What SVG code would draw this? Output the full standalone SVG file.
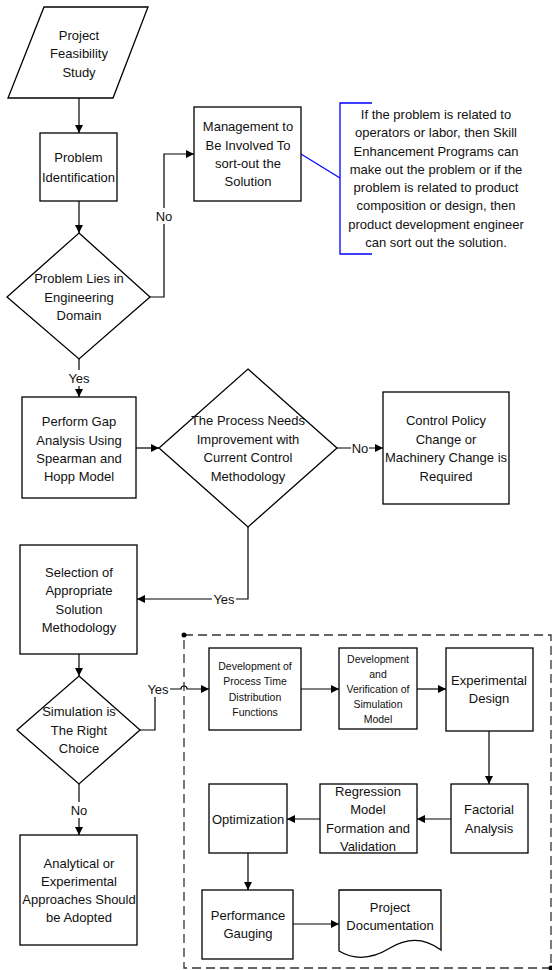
<svg xmlns="http://www.w3.org/2000/svg" width="552" height="970" viewBox="0 0 552 970">
<style>
.s{fill:#fff;stroke:#000;stroke-width:1.3}
.t{font-family:"Liberation Sans",Arial,sans-serif;font-size:13px;fill:#111;text-anchor:middle}
.sm{font-size:10.5px}
.c{fill:none;stroke:#000;stroke-width:1.2}
.lb{fill:#fff;stroke:none}
.blue{fill:none;stroke:#0000ff;stroke-width:1.3}
</style>
<defs>
<marker id="ah" viewBox="0 0 10 10" refX="10" refY="5" markerWidth="8" markerHeight="8" markerUnits="userSpaceOnUse" orient="auto">
<path d="M0,0 L10,5 L0,10 z" fill="#000"/>
</marker>
</defs>
<rect width="552" height="970" fill="#fff"/>

<g id="container">
<rect x="184" y="635" width="367" height="333" fill="none" stroke="#333" stroke-width="1.3" stroke-dasharray="9 5"/>
<circle cx="184" cy="635" r="2.5" fill="#000"/>
<circle cx="551" cy="968" r="2.5" fill="#000"/>
</g>

<g id="connectors">
<path class="c" d="M79,98 V133" marker-end="url(#ah)"/>
<path class="c" d="M79,201 V233" marker-end="url(#ah)"/>
<path class="c" d="M150,297 H164 V154 H194" marker-end="url(#ah)"/>
<path class="c" d="M79,359 V397" marker-end="url(#ah)"/>
<path class="c" d="M136,448 H159" marker-end="url(#ah)"/>
<path class="c" d="M337,448 H383" marker-end="url(#ah)"/>
<path class="c" d="M248,527 V599 H137" marker-end="url(#ah)"/>
<path class="c" d="M79,654 V676" marker-end="url(#ah)"/>
<path class="c" d="M140,730 H155 V689 H181 A3,3 0 0 1 187,689 H209" marker-end="url(#ah)"/>
<path class="c" d="M79,784 V835" marker-end="url(#ah)"/>
<path class="c" d="M301,689 H339" marker-end="url(#ah)"/>
<path class="c" d="M417,689 H446" marker-end="url(#ah)"/>
<path class="c" d="M489,731 V784" marker-end="url(#ah)"/>
<path class="c" d="M451,819 H417" marker-end="url(#ah)"/>
<path class="c" d="M320,819 H287" marker-end="url(#ah)"/>
<path class="c" d="M248,853 V890" marker-end="url(#ah)"/>
<path class="c" d="M293,924 H339" marker-end="url(#ah)"/>
<path class="blue" d="M301,154 L340,178"/>
<rect class="lb" x="155" y="208" width="18" height="16"/>
<text class="t" x="164" y="220.5">No</text>
<rect class="lb" x="67" y="370" width="24" height="16"/>
<text class="t" x="79" y="382.5">Yes</text>
<rect class="lb" x="351" y="440" width="18" height="16"/>
<text class="t" x="360" y="452.5">No</text>
<rect class="lb" x="212" y="591" width="24" height="16"/>
<text class="t" x="224" y="603.5">Yes</text>
<rect class="lb" x="146" y="681" width="24" height="16"/>
<text class="t" x="158" y="693.5">Yes</text>
<rect class="lb" x="70" y="802" width="18" height="16"/>
<text class="t" x="79" y="814.5">No</text>
</g>

<g id="n-feasibility">
<polygon class="s" points="44,7 148,7 113,98 8,98"/>
<text class="t" x="79" y="39.5">Project</text>
<text class="t" x="79" y="58">Feasibility</text>
<text class="t" x="79" y="76.5">Study</text>
</g>

<g id="n-problem">
<rect class="s" x="40" y="133" width="77" height="68"/>
<text class="t" x="78.5" y="161.5">Problem</text>
<text class="t" x="78.5" y="181.5">Identification</text>
</g>

<g id="n-management">
<rect class="s" x="194" y="107" width="107" height="94"/>
<text class="t" x="248" y="130.5">Management to</text>
<text class="t" x="248" y="149.5">Be Involved To</text>
<text class="t" x="248" y="167.5">sort-out the</text>
<text class="t" x="248" y="185.5">Solution</text>
</g>

<g id="n-annotation">
<path class="blue" d="M372,103 H340 V254 H372"/>
<text class="t" x="436" y="118.5">If the problem is related to</text>
<text class="t" x="436" y="137">operators or labor, then Skill</text>
<text class="t" x="436" y="155.5">Enhancement Programs can</text>
<text class="t" x="436" y="173.5">make out the problem or if the</text>
<text class="t" x="436" y="191.5">problem is related to product</text>
<text class="t" x="436" y="210">composition or design, then</text>
<text class="t" x="436" y="228.5">product development engineer</text>
<text class="t" x="436" y="246.5">can sort out the solution.</text>
</g>

<g id="n-decision-domain">
<polygon class="s" points="79,233 150,297 79,359 7,297"/>
<text class="t" x="79" y="282.5">Problem Lies in</text>
<text class="t" x="79" y="301.5">Engineering</text>
<text class="t" x="79" y="319.5">Domain</text>
</g>

<g id="n-gap">
<rect class="s" x="22" y="397" width="114" height="101"/>
<text class="t" x="79" y="425.5">Perform Gap</text>
<text class="t" x="79" y="444.5">Analysis Using</text>
<text class="t" x="79" y="462.5">Spearman and</text>
<text class="t" x="79" y="480.5">Hopp Model</text>
</g>

<g id="n-decision-process">
<polygon class="s" points="248,369 337,448 248,527 159,448"/>
<text class="t" x="248" y="424.5">The Process Needs</text>
<text class="t" x="248" y="443.5">Improvement with</text>
<text class="t" x="248" y="461.5">Current Control</text>
<text class="t" x="248" y="480.5">Methodology</text>
</g>

<g id="n-control">
<rect class="s" x="383" y="392" width="126" height="112"/>
<text class="t" x="446" y="424.5">Control Policy</text>
<text class="t" x="446" y="443.5">Change or</text>
<text class="t" x="446" y="461.5">Machinery Change is</text>
<text class="t" x="446" y="480.5">Required</text>
</g>

<g id="n-selection">
<rect class="s" x="20" y="545" width="117" height="109"/>
<text class="t" x="79" y="576.5">Selection of</text>
<text class="t" x="79" y="594.5">Appropriate</text>
<text class="t" x="79" y="613.5">Solution</text>
<text class="t" x="79" y="631.5">Methodology</text>
</g>

<g id="n-decision-simulation">
<polygon class="s" points="79,676 140,730 79,784 17,730"/>
<text class="t" x="79" y="715.5">Simulation is</text>
<text class="t" x="79" y="734.5">The Right</text>
<text class="t" x="79" y="752.5">Choice</text>
</g>

<g id="n-analytical">
<rect class="s" x="20" y="835" width="117" height="110"/>
<text class="t" x="79" y="867.5">Analytical or</text>
<text class="t" x="79" y="885.5">Experimental</text>
<text class="t" x="79" y="903.5">Approaches Should</text>
<text class="t" x="79" y="921.5">be Adopted</text>
</g>

<g id="n-dev-ptdf">
<rect class="s" x="209" y="648" width="92" height="82"/>
<text class="t sm" x="255" y="669.7">Development of</text>
<text class="t sm" x="255" y="685">Process Time</text>
<text class="t sm" x="255" y="700.5">Distribution</text>
<text class="t sm" x="255" y="715.7">Functions</text>
</g>

<g id="n-dev-sim">
<rect class="s" x="339" y="648" width="78" height="81"/>
<text class="t sm" x="378" y="662.7">Development</text>
<text class="t sm" x="378" y="677.7">and</text>
<text class="t sm" x="378" y="692.7">Verification of</text>
<text class="t sm" x="378" y="707.7">Simulation</text>
<text class="t sm" x="378" y="722.7">Model</text>
</g>

<g id="n-experimental">
<rect class="s" x="446" y="648" width="87" height="83"/>
<text class="t" x="489" y="685">Experimental</text>
<text class="t" x="489" y="703">Design</text>
</g>

<g id="n-factorial">
<rect class="s" x="451" y="784" width="77" height="69"/>
<text class="t" x="489" y="813.5">Factorial</text>
<text class="t" x="489" y="832.5">Analysis</text>
</g>

<g id="n-regression">
<rect class="s" x="320" y="784" width="97" height="69"/>
<text class="t" x="368" y="795.5">Regression</text>
<text class="t" x="368" y="813.5">Model</text>
<text class="t" x="368" y="832.5">Formation and</text>
<text class="t" x="368" y="850.5">Validation</text>
</g>

<g id="n-optimization">
<rect class="s" x="209" y="784" width="78" height="69"/>
<text class="t" x="248" y="823.5">Optimization</text>
</g>

<g id="n-performance">
<rect class="s" x="202" y="890" width="91" height="69"/>
<text class="t" x="248" y="919.5">Performance</text>
<text class="t" x="248" y="937.5">Gauging</text>
</g>

<g id="n-documentation">
<path class="s" d="M339,890 H441 V950 C425,938 408,937 390,948 C372,959 354,960 339,951 Z"/>
<text class="t" x="390" y="911.5">Project</text>
<text class="t" x="390" y="929.5">Documentation</text>
</g>
</svg>
